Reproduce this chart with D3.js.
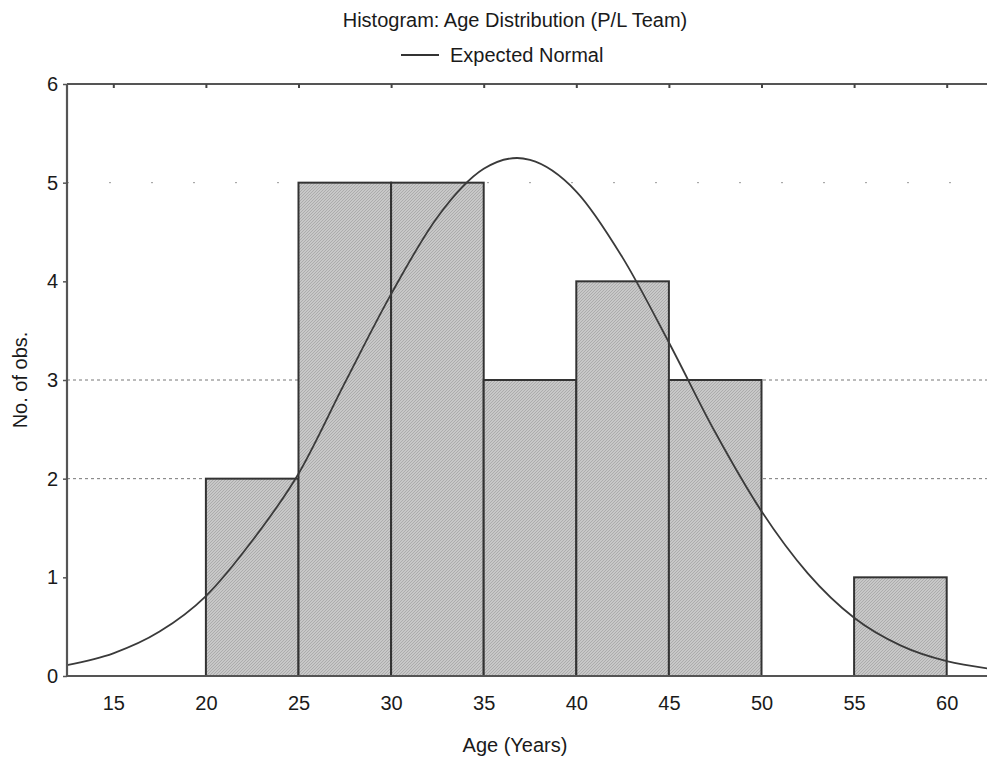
<!DOCTYPE html>
<html lang="en">
<head>
<meta charset="UTF-8" />
<title>Histogram: Age Distribution (P/L Team)</title>
<script src="https://d3js.org/d3.v7.min.js"></script>
<style>
body {
    margin: 0;
    padding: 0;
    background: #fff;
    font-family: "Liberation Sans", Arial, sans-serif;
    color: #222;
}
svg {
    display: block;
    overflow: hidden;
}
.axis-text {
    font-family: "Liberation Sans", Arial, sans-serif;
    font-size: 20px;
    fill: #1a1a1a;
}
</style>
</head>
<body>
<svg width="987" height="761"></svg>

<script>
// histogram bins (lower edge) and counts
const binStarts = [20, 25, 30, 35, 40, 45, 55];
const binCounts = [2, 5, 5, 3, 4, 3, 1];
const binWidth = 5;

// expected normal curve
const curveAge = [12.5, 15, 17.5, 20, 22.5, 25, 27.5, 30, 32.5, 35, 36.8, 37.5, 40, 42.5, 45, 47.5, 50, 52.5, 55, 57.5, 60, 62.5];
const curveObs = [0.11, 0.23, 0.45, 0.81, 1.37, 2.05, 2.97, 3.87, 4.65, 5.14, 5.25, 5.23, 4.91, 4.24, 3.38, 2.47, 1.67, 1.04, 0.59, 0.31, 0.15, 0.07];

const xTicks = [15, 20, 25, 30, 35, 40, 45, 50, 55, 60];
const yTicks = [0, 1, 2, 3, 4, 5, 6];
const gridLines = [2, 3, 5];

const svg = d3.select("svg");
const margin = { top: 84, left: 67, bottom: 85 };
const plotW = 926;
const plotH = 761 - margin.top - margin.bottom;

const x = d3.scaleLinear().domain([12.5, 62.5]).range([margin.left, margin.left + plotW]);
const y = d3.scaleLinear().domain([0, 6]).range([margin.top + plotH, margin.top]);

// fine hatched fill for the bars
const defs = svg.append("defs");
const pat = defs.append("pattern")
    .attr("id", "hatch")
    .attr("patternUnits", "userSpaceOnUse")
    .attr("width", 3)
    .attr("height", 3);
pat.append("rect").attr("width", 3).attr("height", 3).attr("fill", "#c8c8c8");
pat.append("path").attr("d", "M0,3 L3,0").attr("stroke", "#a4a4a4").attr("stroke-width", 0.8);

// grid lines
svg.append("g")
    .selectAll("line")
    .data(gridLines)
    .enter()
    .append("line")
    .attr("x1", margin.left)
    .attr("x2", margin.left + plotW)
    .attr("y1", (d) => y(d))
    .attr("y2", (d) => y(d))
    .attr("stroke", (d) => (d === 5 ? "#999" : "#777"))
    .attr("stroke-width", 1)
    .attr("stroke-dasharray", (d) => (d === 5 ? "2,40" : "3,3"));

// bars
svg.append("g")
    .selectAll("rect")
    .data(binStarts)
    .enter()
    .append("rect")
    .attr("x", (d) => x(d))
    .attr("y", (d, i) => y(binCounts[i]))
    .attr("width", (d) => x(d + binWidth) - x(d))
    .attr("height", (d, i) => y(0) - y(binCounts[i]))
    .attr("fill", "url(#hatch)")
    .attr("stroke", "#333")
    .attr("stroke-width", 2);

// normal curve
const line = d3.line()
    .x((d, i) => x(curveAge[i]))
    .y((d) => y(d))
    .curve(d3.curveMonotoneX);

svg.append("path")
    .datum(curveObs)
    .attr("d", line)
    .attr("fill", "none")
    .attr("stroke", "#3a3a3a")
    .attr("stroke-width", 1.8);

// frame
const frame = svg.append("g").attr("stroke", "#555").attr("stroke-width", 2.2);
frame.append("line")
    .attr("x1", margin.left).attr("x2", margin.left + plotW)
    .attr("y1", y(6)).attr("y2", y(6));
frame.append("line")
    .attr("x1", margin.left).attr("x2", margin.left + plotW)
    .attr("y1", y(0)).attr("y2", y(0));
frame.append("line")
    .attr("x1", margin.left).attr("x2", margin.left)
    .attr("y1", y(6)).attr("y2", y(0));

// ticks
const xAxisTop = d3.axisTop(x).tickValues(xTicks).tickSize(-4).tickFormat("");
const xAxisBottom = d3.axisBottom(x).tickValues(xTicks).tickSize(0).tickPadding(20);
const yAxis = d3.axisLeft(y).tickValues(yTicks).tickSize(4).tickPadding(5).tickFormat(d3.format("d"));

const gTop = svg.append("g").attr("transform", `translate(0,${y(6)})`).call(xAxisTop);
gTop.select(".domain").remove();
gTop.selectAll("line").attr("stroke", "#444").attr("stroke-width", 2);

const gBottom = svg.append("g").attr("transform", `translate(0,${y(0)})`).call(xAxisBottom);
gBottom.select(".domain").remove();
gBottom.selectAll("text").attr("class", "axis-text");

const gLeft = svg.append("g").attr("transform", `translate(${margin.left},0)`).call(yAxis);
gLeft.select(".domain").remove();
gLeft.selectAll("line").attr("stroke", "#555").attr("stroke-width", 1.5);
gLeft.selectAll("text").attr("class", "axis-text");

// titles
svg.append("text")
    .attr("x", 515)
    .attr("y", 27)
    .attr("text-anchor", "middle")
    .attr("class", "axis-text")
    .text("Histogram: Age Distribution (P/L Team)");

svg.append("line")
    .attr("x1", 401).attr("x2", 439)
    .attr("y1", 55).attr("y2", 55)
    .attr("stroke", "#333")
    .attr("stroke-width", 2);

svg.append("text")
    .attr("x", 450)
    .attr("y", 62)
    .attr("class", "axis-text")
    .text("Expected Normal");

svg.append("text")
    .attr("x", 515)
    .attr("y", 752)
    .attr("text-anchor", "middle")
    .attr("class", "axis-text")
    .text("Age (Years)");

svg.append("text")
    .attr("transform", "translate(27,380) rotate(-90)")
    .attr("text-anchor", "middle")
    .attr("class", "axis-text")
    .text("No. of obs.");
</script>
</body>
</html>
